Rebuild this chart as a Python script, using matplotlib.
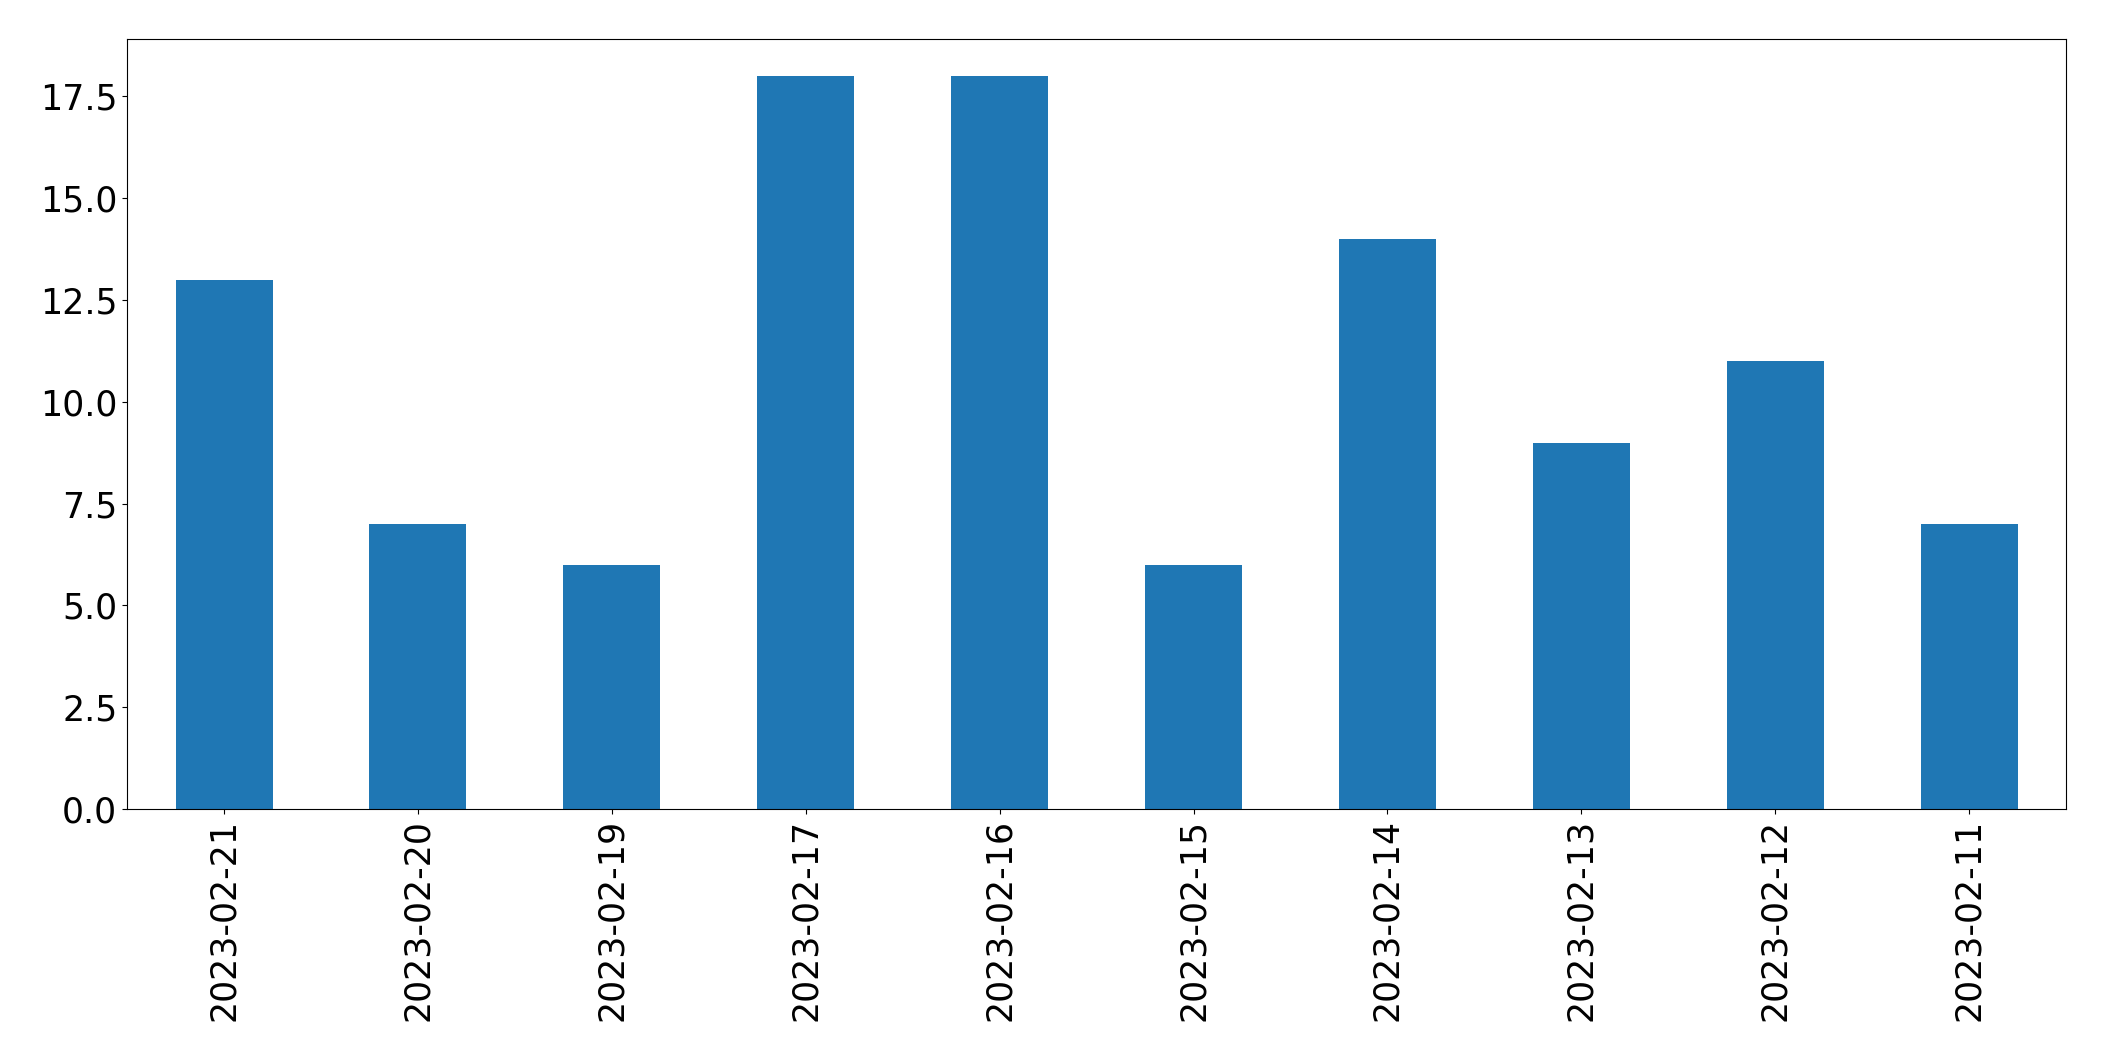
import matplotlib
matplotlib.use("Agg")
import matplotlib.pyplot as plt
import pandas as pd

# daily counts, newest first (as in the source table)
dates = ["2023-02-21", "2023-02-20", "2023-02-19", "2023-02-17", "2023-02-16",
         "2023-02-15", "2023-02-14", "2023-02-13", "2023-02-12", "2023-02-11"]
counts = [13, 7, 6, 18, 18, 6, 14, 9, 11, 7]

series = pd.Series(counts, index=dates)

fig, ax = plt.subplots(figsize=(21.04, 10.61), dpi=100)
series.plot.bar(ax=ax, color="#1f77b4", fontsize=25)
ax.tick_params(axis="both", labelsize=25)

plt.subplots_adjust(left=0.0604, right=0.982, top=0.9628, bottom=0.2375)
plt.savefig("out.png", dpi=100)
plt.close()
